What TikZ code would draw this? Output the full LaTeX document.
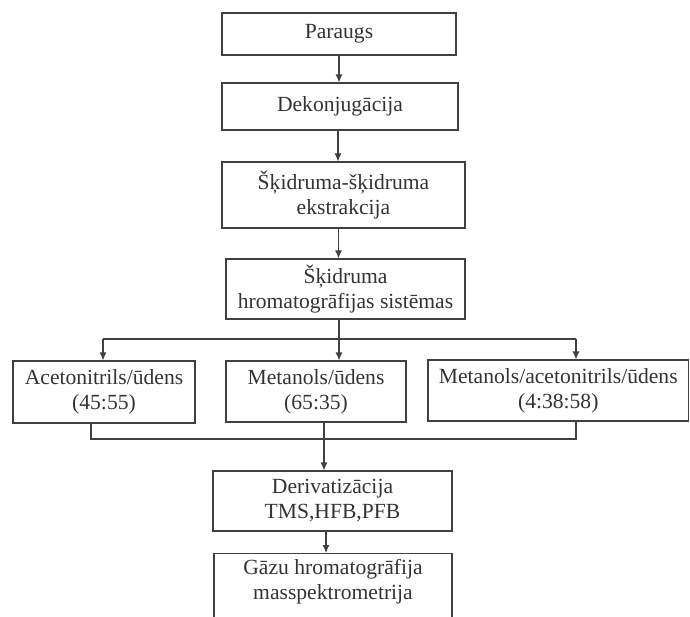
\documentclass[tikz,border=0pt]{standalone}
\usepackage{fontspec}
\setmainfont{Liberation Serif}
\usetikzlibrary{arrows.meta}
\newcommand{\flowFont}{\fontsize{21.6}{25}\selectfont}

\begin{document}
\begin{tikzpicture}[x=1pt,y=-1pt,
  stepbox/.style={draw=black!75, line width=1.1pt, text=black!80, font={\flowFont}, align=center, inner sep=0pt},
  steptext/.style={text=black!80, font={\flowFont}, align=center, inner sep=0pt},
  flowline/.style={draw=black!75, line width=1.1pt},
  flowarrow/.style={flowline, -{Latex[length=8pt,width=7pt]}}]
\useasboundingbox (0,0) rectangle (690,616);
\clip (0,0) rectangle (690,616);
\node[stepbox, minimum width=234, minimum height=42] (paraugs) at (339,34) {Paraugs};
\node[stepbox, minimum width=236, minimum height=47] (dekonj) at (340,106.5) {Dekonjugācija};
\node[stepbox, minimum width=243, minimum height=66] (ekstr) at (343.5,195) {Šķidruma-šķidruma\\ekstrakcija};
\node[stepbox, minimum width=239, minimum height=60] (hromsist) at (345.5,289) {Šķidruma\\hromatogrāfijas sistēmas};
\node[stepbox, minimum width=182, minimum height=62] (acetud) at (104,392) {Acetonitrils/ūdens\\(45:55)};
\node[stepbox, minimum width=180, minimum height=61] (metud) at (316,391.5) {Metanols/ūdens\\(65:35)};
\node[stepbox, minimum width=260.5, minimum height=61] (metacetud) at (558.25,390.5) {Metanols/acetonitrils/ūdens\\(4:38:58)};
\node[stepbox, minimum width=239, minimum height=60] (deriv) at (332.5,501) {Derivatizācija\\TMS,HFB,PFB};
\node[stepbox, minimum width=238, minimum height=80, anchor=north] (gazu) at (333,553) {};
\node[steptext] (gazutxt) at (333,582) {Gāzu hromatogrāfija\\masspektrometrija};
\coordinate (splitL) at (103,339);
\coordinate (splitM) at (339,339);
\coordinate (splitR) at (576,339);
\coordinate (mergeL) at (91,439);
\coordinate (mergeM) at (324,439);
\coordinate (mergeR) at (576,439);
\draw[flowarrow] (paraugs.south) -- (paraugs.south |- dekonj.north);
\draw[flowarrow] ([xshift=-2]dekonj.south) -- ([xshift=-2]dekonj.south |- ekstr.north);
\draw[flowarrow] ([xshift=-5]ekstr.south) -- ([xshift=-5]ekstr.south |- hromsist.north);
\draw[flowline] (splitM |- hromsist.south) -- (splitM);
\draw[flowline] (splitL) -- (splitR);
\draw[flowarrow] (splitL) -- (splitL |- acetud.north);
\draw[flowarrow] (splitM) -- (splitM |- metud.north);
\draw[flowarrow] (splitR) -- (splitR |- metacetud.north);
\draw[flowline] (mergeL |- acetud.south) -- (mergeL) -- (mergeR) -- (mergeR |- metacetud.south);
\draw[flowarrow] (mergeM |- metud.south) -- (mergeM |- deriv.north);
\draw[flowarrow] ([xshift=-6.5]deriv.south) -- ([xshift=-7]gazu.north);
\end{tikzpicture}
\end{document}
